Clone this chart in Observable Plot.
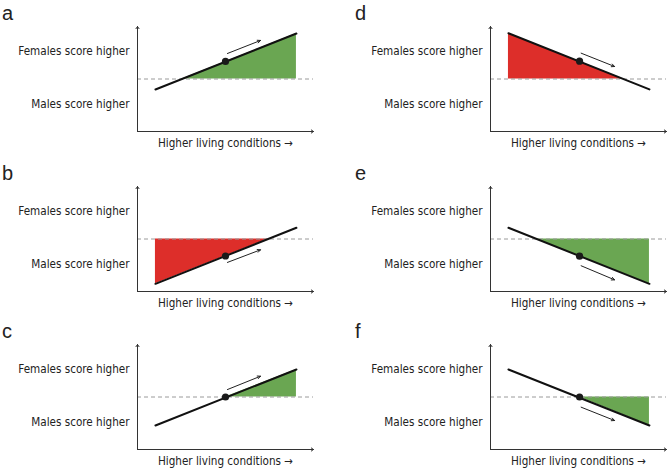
<!DOCTYPE html>
<html>
<head>
<meta charset="utf-8">
<script src="https://cdn.jsdelivr.net/npm/d3@7"></script>
<script src="https://cdn.jsdelivr.net/npm/@observablehq/plot@0.6"></script>
<style>
  html, body { margin: 0; padding: 0; background: #fff; }
  #wrap { position: relative; width: 669px; height: 472px; overflow: hidden; }
  .panel { position: absolute; }
  .letter { position: absolute; font-family: "Liberation Sans", Arial, sans-serif; font-size: 20px; color: #222; line-height: 1; }
</style>
</head>
<body>
<div id="wrap"></div>
<script>
// ---- data ----
const panelIds   = ["a", "b", "c", "d", "e", "f"];
const panelCol   = [0, 0, 0, 1, 1, 1];
const panelRow   = [0, 1, 2, 0, 1, 2];
const xDomain    = [0, 10];
const yDomain    = [-5, 5];
const yTickVals  = [2.6, -2.4];
const yTickText  = ["Females score higher", "Males score higher"];
const xLabelText = ["Higher living conditions →"];

const lineX0  = [1.02, 1.02, 1.02, 1.02, 1.02, 1.02];
const lineY0  = [-1.0, -4.27, -2.71, 4.36, 1.07, 2.62];
const lineX1  = [9.03, 9.03, 9.03, 9.03, 9.03, 9.03];
const lineY1  = [4.33, 1.07, 2.62, -0.99, -4.27, -2.71];

const dotX    = [5.0, 5.0, 5.0, 5.06, 5.06, 5.06];
const dotY    = [1.67, -1.62, 0, 1.70, -1.64, 0];

const arrX0   = [5.11, 5.11, 5.11, 5.15, 5.15, 5.15];
const arrY0   = [2.43, -2.23, 0.71, 2.46, -2.55, -0.97];
const arrX1   = [6.99, 6.99, 6.99, 7.05, 7.05, 7.05];
const arrY1   = [3.67, -1.03, 1.98, 1.19, -3.89, -2.24];

const fillX0  = [2.52, 1.02, 5.0, 1.02, 2.58, 5.06];
const fillY0  = [0, -4.27, 0, 4.36, 0, 0];
const fillX1  = [9.03, 7.43, 9.03, 7.55, 9.03, 9.03];
const fillY1  = [4.33, 0, 2.62, 0, -4.27, -2.71];
const fillColor = ["#6aa652", "#dd2e2a", "#6aa652", "#dd2e2a", "#6aa652", "#6aa652"];

// ---- layout ----
const colLeft = [0, 353];
const rowTop  = [0, 160, 318];

const wrap = document.getElementById("wrap");
const ink = "#222";

panelIds.forEach((id, i) => {
  const linePts = [{x: lineX0[i], y: lineY0[i]}, {x: lineX1[i], y: lineY1[i]}];
  const fillPts = [{x: fillX0[i], y: fillY0[i]}, {x: fillX1[i], y: fillY1[i]}];
  const axes = [
    {x1: xDomain[0], y1: yDomain[0], x2: xDomain[0], y2: yDomain[1]},
    {x1: xDomain[0], y1: yDomain[0], x2: xDomain[1], y2: yDomain[0]}
  ];
  const chart = Plot.plot({
    width: 316,
    height: 154,
    marginLeft: 137,
    marginRight: 3,
    marginTop: 26,
    marginBottom: 23,
    style: {fontFamily: "'Liberation Sans Narrow', 'DejaVu Sans Condensed', sans-serif", fontSize: "11.6px", color: ink, background: "#fff", overflow: "visible"},
    x: {domain: xDomain, axis: null},
    y: {domain: yDomain, axis: null},
    marks: [
      Plot.areaY(fillPts, {x: "x", y1: 0, y2: "y", fill: fillColor[i]}),
      Plot.ruleY([0], {x1: xDomain[0], x2: xDomain[1], stroke: "#9a9a9a", strokeWidth: 1, strokeDasharray: "4,3"}),
      Plot.arrow(axes, {x1: "x1", y1: "y1", x2: "x2", y2: "y2", stroke: "#333", strokeWidth: 1, headLength: 4, headAngle: 70}),
      Plot.line(linePts, {x: "x", y: "y", stroke: "#111", strokeWidth: 2}),
      Plot.arrow([{x1: arrX0[i], y1: arrY0[i], x2: arrX1[i], y2: arrY1[i]}], {x1: "x1", y1: "y1", x2: "x2", y2: "y2", stroke: "#222", strokeWidth: 1, headLength: 5, headAngle: 50}),
      Plot.dot([{x: dotX[i], y: dotY[i]}], {x: "x", y: "y", r: 3.6, fill: "#1a1a1a", stroke: null}),
      Plot.axisY(yTickVals, {tickSize: 0, tickPadding: 8, tickFormat: (d, k) => yTickText[k], label: null, fill: "#222"}),
      Plot.text(xLabelText, {frameAnchor: "bottom", dy: 15, fill: "#222"})
    ]
  });
  chart.classList.add("panel");
  chart.style.left = colLeft[panelCol[i]] + "px";
  chart.style.top = rowTop[panelRow[i]] + "px";
  wrap.appendChild(chart);

  const lab = document.createElement("div");
  lab.className = "letter";
  lab.textContent = id;
  lab.style.left = (colLeft[panelCol[i]] + 2) + "px";
  lab.style.top = (rowTop[panelRow[i]] + 3) + "px";
  wrap.appendChild(lab);
});
</script>
</body>
</html>
